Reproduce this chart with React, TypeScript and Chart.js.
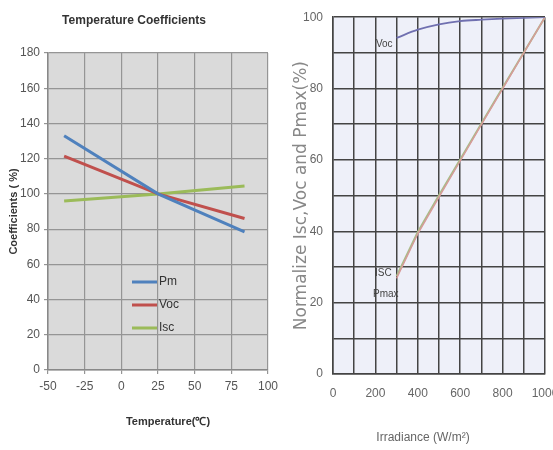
import React, { useEffect, useRef } from "react";
import { Chart, registerables } from "chart.js";

Chart.register(...registerables);

// ---------- Left chart data: Temperature Coefficients ----------
const tempPoints = [-39, 25, 84];
const pmSeries = [133, 100, 78.5];
const vocTempSeries = [121.5, 100, 86];
const iscTempSeries = [96, 100, 104.5];
const tempSeriesNames = ["Pm", "Voc", "Isc"];
const tempColors = ["#4f81bd", "#c0504d", "#9bbb59"];

// ---------- Right chart data: Irradiance dependence ----------
const irradiancePoints = [300, 400, 500, 600, 700, 800, 900, 1000];
const vocIrrSeries = [94.2, 96.5, 98.0, 98.9, 99.3, 99.6, 99.8, 100];
const iscIrrSeries = [27.4, 39.8, 50.1, 60.1, 70.2, 80.2, 90.1, 100];
const pmaxIrrSeries = [26.8, 39.3, 49.6, 59.7, 69.9, 79.9, 90, 100];
const irrSeriesNames = ["Voc", "Isc", "Pmax"];

const SANS = "'Liberation Sans', Arial, sans-serif";
const NARROW = "'Liberation Sans Narrow', 'Liberation Sans', Arial, sans-serif";

const plotBg = {
  id: "plotBg",
  beforeDraw(chart: any, _args: any, opts: any) {
    const { ctx, chartArea } = chart;
    if (!chartArea) return;
    ctx.save();
    ctx.fillStyle = opts.color || "#fff";
    ctx.fillRect(chartArea.left, chartArea.top, chartArea.right - chartArea.left, chartArea.bottom - chartArea.top);
    ctx.restore();
  },
};

const xTitle = {
  id: "xTitle",
  afterDraw(chart: any, _args: any, opts: any) {
    const { ctx, chartArea } = chart;
    ctx.save();
    ctx.font = opts.font;
    ctx.fillStyle = opts.color;
    ctx.textAlign = "center";
    ctx.textBaseline = "middle";
    ctx.fillText(opts.text, (chartArea.left + chartArea.right) / 2 + opts.dx, opts.y);
    ctx.restore();
  },
};

const innerLegend = {
  id: "innerLegend",
  afterDatasetsDraw(chart: any) {
    const { ctx, chartArea } = chart;
    const x0 = chartArea.left + 84;
    const y0 = chartArea.top + 229;
    ctx.save();
    chart.data.datasets.forEach((ds: any, i: number) => {
      const y = y0 + i * 23;
      ctx.strokeStyle = ds.borderColor;
      ctx.lineWidth = 3;
      ctx.beginPath();
      ctx.moveTo(x0, y);
      ctx.lineTo(x0 + 25, y);
      ctx.stroke();
      ctx.fillStyle = "#333";
      ctx.font = `12px ${SANS}`;
      ctx.textAlign = "left";
      ctx.textBaseline = "middle";
      ctx.fillText(ds.label, x0 + 27, y);
    });
    ctx.restore();
  },
};

const irrLabels = {
  id: "irrLabels",
  afterDatasetsDraw(chart: any) {
    const { ctx } = chart;
    const v = chart.getDatasetMeta(0).data[0];
    const s = chart.getDatasetMeta(1).data[0];
    ctx.save();
    ctx.font = `10px ${NARROW}`;
    ctx.fillStyle = "#444";
    ctx.textBaseline = "middle";
    ctx.textAlign = "right";
    ctx.fillText("Voc", v.x - 4, v.y + 6);
    ctx.fillText("ISC", s.x - 5, s.y - 3);
    ctx.fillText("Pmax", s.x + 2, s.y + 18);
    ctx.restore();
  },
};

function toXY(xs: number[], ys: number[]) {
  return xs.map((x, i) => ({ x, y: ys[i] }));
}

export default function App() {
  const leftRef = useRef<HTMLCanvasElement>(null);
  const rightRef = useRef<HTMLCanvasElement>(null);

  useEffect(() => {
    const tempData = [pmSeries, vocTempSeries, iscTempSeries];
    const left = new Chart(leftRef.current as HTMLCanvasElement, {
      type: "line",
      data: {
        datasets: tempSeriesNames.map((name, i) => ({
          label: name,
          data: toXY(tempPoints, tempData[i]),
          borderColor: tempColors[i],
          backgroundColor: tempColors[i],
          borderWidth: 3,
          pointRadius: 0,
          tension: 0,
        })),
      },
      plugins: [plotBg, innerLegend, xTitle],
      options: {
        responsive: false,
        animation: false,
        layout: { padding: { left: 0, right: 12, top: 0, bottom: 0 } },
        plugins: {
          legend: { display: false },
          tooltip: { enabled: false },
          title: {
            display: true,
            text: "Temperature Coefficients",
            color: "#333",
            font: { family: SANS, size: 12, weight: "bold" },
            padding: { top: 13, bottom: 25.6 },
          },
          plotBg: { color: "#dadada" },
          xTitle: { text: "Temperature(℃)", font: `bold 11px ${SANS}`, color: "#333", dx: 10, y: 422 },
        } as any,
        scales: {
          x: {
            type: "linear",
            min: -50,
            max: 100,
            ticks: { stepSize: 25, color: "#555", font: { family: SANS, size: 12 }, padding: 5, maxRotation: 0 },
            grid: { color: "#959595", lineWidth: 1.2, tickLength: 4 },
            border: { color: "#888", width: 1.5 },
            afterFit: (s: any) => { s.height = 80; s.paddingRight = 0; s.paddingLeft = 0; },
          },
          y: {
            type: "linear",
            min: 0,
            max: 180,
            ticks: { stepSize: 20, color: "#555", font: { family: SANS, size: 12 }, padding: 4 },
            grid: { color: "#959595", lineWidth: 1.2, tickLength: 4 },
            border: { color: "#888", width: 1.5 },
            title: {
              display: true,
              text: "Coefficients ( %)",
              color: "#333",
              font: { family: SANS, size: 11, weight: "bold" },
              padding: { top: 7, bottom: 0 },
            },
            afterFit: (s: any) => { s.width = 48; },
          },
        },
      } as any,
    });

    const irrData = [vocIrrSeries, iscIrrSeries, pmaxIrrSeries];
    const irrColors = ["#7070b0", "#a8bc88", "#d89a9a"];
    const irrWidths = [1.8, 2, 1.4];
    const irrOrder = [0, 2, 1];
    const right = new Chart(rightRef.current as HTMLCanvasElement, {
      type: "line",
      data: {
        datasets: irrSeriesNames.map((name, i) => ({
          label: name,
          data: toXY(irradiancePoints, irrData[i]),
          borderColor: irrColors[i],
          borderWidth: irrWidths[i],
          order: irrOrder[i],
          pointRadius: 0,
          cubicInterpolationMode: i === 0 ? "monotone" : "default",
          tension: 0,
        })),
      },
      plugins: [plotBg, irrLabels, xTitle],
      options: {
        responsive: false,
        animation: false,
        layout: { padding: { left: 0, right: 8, top: 15, bottom: 0 } },
        plugins: {
          legend: { display: false },
          tooltip: { enabled: false },
          plotBg: { color: "#eef0f9" },
          xTitle: { text: "Irradiance (W/m²)", font: `12px ${NARROW}`, color: "#666", dx: -16, y: 438 },
        } as any,
        scales: {
          x: {
            type: "linear",
            min: 0,
            max: 1000,
            ticks: {
              stepSize: 100,
              autoSkip: false,
              maxRotation: 0,
              color: "#666",
              font: { family: NARROW, size: 12 },
              padding: 12,
              callback: (v: any) => (v % 200 === 0 ? String(v) : ""),
            },
            grid: { color: "#444", lineWidth: 1.5, drawTicks: false },
            border: { color: "#444", width: 1.5 },
            afterFit: (s: any) => { s.height = 76; s.paddingRight = 0; s.paddingLeft = 0; },
          },
          y: {
            type: "linear",
            min: 0,
            max: 100,
            ticks: {
              stepSize: 10,
              autoSkip: false,
              color: "#666",
              font: { family: NARROW, size: 12 },
              padding: 10,
              callback: (v: any) => (v % 20 === 0 ? String(v) : ""),
            },
            grid: { color: "#444", lineWidth: 1.5, drawTicks: false },
            border: { color: "#444", width: 1.5 },
            title: {
              display: true,
              text: "Normalize Isc,Voc and Pmax(%)",
              color: "#888",
              font: { family: "'DejaVu Sans', sans-serif", size: 17 },
              padding: { top: 11, bottom: 0 },
            },
            afterFit: (s: any) => { s.width = 53; },
          },
        },
      } as any,
    });

    return () => {
      left.destroy();
      right.destroy();
    };
  }, []);

  return (
    <div style={{ position: "absolute", left: 0, top: 0, width: 553, height: 450, background: "#fff", overflow: "hidden" }}>
      <canvas ref={leftRef} width={280} height={450} style={{ position: "absolute", left: 0, top: 0 }} />
      <canvas ref={rightRef} width={273} height={450} style={{ position: "absolute", left: 280, top: 0 }} />
    </div>
  );
}
